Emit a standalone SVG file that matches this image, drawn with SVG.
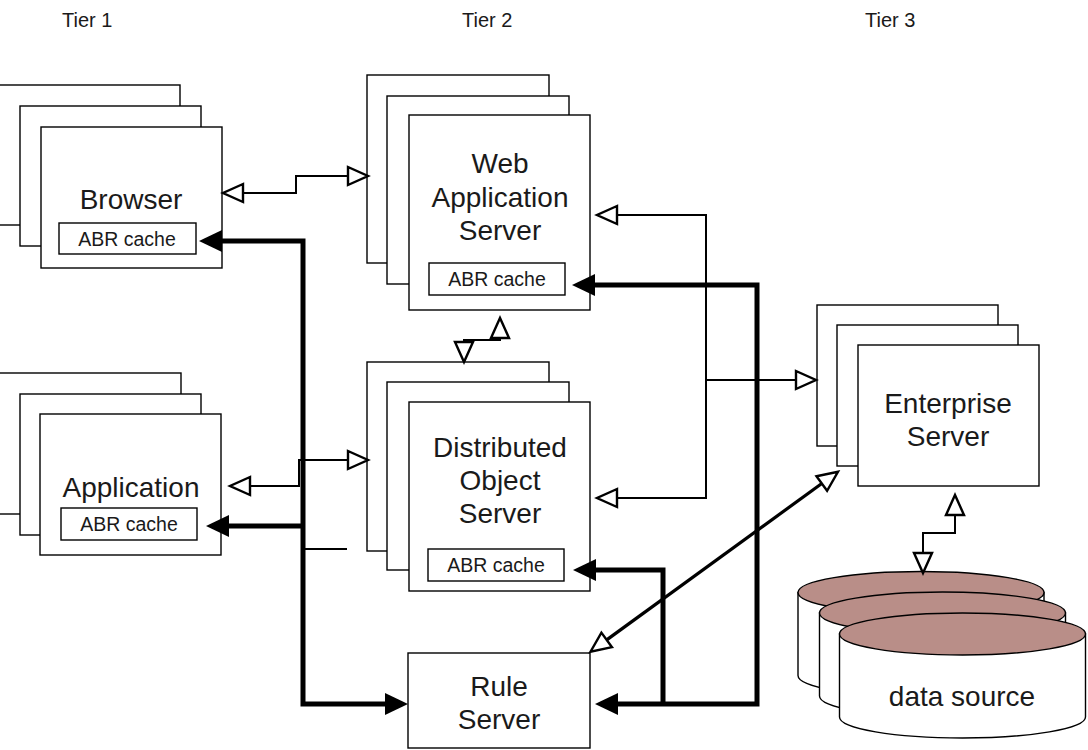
<svg xmlns="http://www.w3.org/2000/svg" width="1088" height="750" viewBox="0 0 1088 750">
<style>
  .box { fill: #fff; stroke: #000; stroke-width: 1.4; }
  .lbl { font-family: "Liberation Sans", Arial, sans-serif; font-size: 28px; fill: #1a1a1a; text-anchor: middle; }
  .small { font-family: "Liberation Sans", Arial, sans-serif; font-size: 19.5px; fill: #1a1a1a; text-anchor: middle; }
  .tier { font-family: "Liberation Sans", Arial, sans-serif; font-size: 20px; fill: #1a1a1a; }
  .thin { fill: none; stroke: #000; stroke-width: 2; }
  .thick { fill: none; stroke: #000; stroke-width: 5; }
  .diag { fill: none; stroke: #000; stroke-width: 3.2; }
  .hol { marker-start: url(#hollow); marker-end: url(#hollow); }
  .db-body { fill: #fff; stroke: #000; stroke-width: 1.4; }
  .db-top { fill: #b98e88; stroke: #000; stroke-width: 1.4; }
</style>
<defs>
  <marker id="hollow" markerUnits="userSpaceOnUse" markerWidth="24" markerHeight="22" refX="1" refY="11" orient="auto-start-reverse" overflow="visible">
    <path d="M1,2 L21,11 L1,20 Z" fill="#fff" stroke="#000" stroke-width="2.4"/>
  </marker>
  <marker id="solid" markerUnits="userSpaceOnUse" markerWidth="24" markerHeight="22" refX="0" refY="11" orient="auto-start-reverse" overflow="visible">
    <path d="M0,0 L23,11 L0,22 Z" fill="#000"/>
  </marker>
</defs>
<rect width="1088" height="750" fill="#fff"/>

<g id="tiers">
  <text class="tier" x="62" y="27">Tier 1</text>
  <text class="tier" x="462" y="27">Tier 2</text>
  <text class="tier" x="865" y="27">Tier 3</text>
</g>

<g id="browser">
  <rect class="box" x="-1" y="85" width="181" height="140"/>
  <rect class="box" x="20" y="106" width="181" height="140"/>
  <rect class="box" x="41" y="127" width="181" height="141"/>
  <text class="lbl" x="131" y="209">Browser</text>
  <rect class="box" x="59" y="223" width="137" height="31"/>
  <text class="small" x="127" y="246">ABR cache</text>
</g>

<g id="application">
  <rect class="box" x="-1" y="373" width="182" height="141"/>
  <rect class="box" x="20" y="394" width="181" height="141"/>
  <rect class="box" x="40" y="414" width="181" height="141"/>
  <text class="lbl" x="131" y="497">Application</text>
  <rect class="box" x="61" y="508" width="136" height="32"/>
  <text class="small" x="129" y="531">ABR cache</text>
</g>

<g id="web-application-server">
  <rect class="box" x="367" y="75" width="182" height="188"/>
  <rect class="box" x="387" y="96" width="182" height="188"/>
  <rect class="box" x="409" y="115" width="181" height="195"/>
  <text class="lbl" x="500" y="173">Web</text>
  <text class="lbl" x="500" y="207">Application</text>
  <text class="lbl" x="500" y="240">Server</text>
  <rect class="box" x="429" y="263" width="136" height="32"/>
  <text class="small" x="497" y="286">ABR cache</text>
</g>

<g id="distributed-object-server">
  <rect class="box" x="367" y="362" width="182" height="189"/>
  <rect class="box" x="387" y="382" width="182" height="188"/>
  <rect class="box" x="409" y="402" width="181" height="189"/>
  <text class="lbl" x="500" y="457">Distributed</text>
  <text class="lbl" x="500" y="490">Object</text>
  <text class="lbl" x="500" y="523">Server</text>
  <rect class="box" x="428" y="549" width="136" height="32"/>
  <text class="small" x="496" y="572">ABR cache</text>
</g>

<g id="rule-server">
  <rect class="box" x="408" y="653" width="182" height="95"/>
  <text class="lbl" x="499" y="696">Rule</text>
  <text class="lbl" x="499" y="729">Server</text>
</g>

<g id="enterprise-server">
  <rect class="box" x="817" y="305" width="181" height="141"/>
  <rect class="box" x="837" y="325" width="181" height="141"/>
  <rect class="box" x="858" y="345" width="181" height="141"/>
  <text class="lbl" x="948" y="413">Enterprise</text>
  <text class="lbl" x="948" y="446">Server</text>
</g>

<g id="data-source">
  <path class="db-body" d="M798,592.5 L798,675.5 A123,21 0 0 0 1044,675.5 L1044,592.5 Z"/>
  <ellipse class="db-top" cx="921" cy="592.5" rx="123" ry="21"/>
  <path class="db-body" d="M819.5,613 L819.5,696 A123,21 0 0 0 1065.5,696 L1065.5,613 Z"/>
  <ellipse class="db-top" cx="942.5" cy="613" rx="123" ry="21"/>
  <path class="db-body" d="M839.5,634 L839.5,717 A123,21 0 0 0 1085.5,717 L1085.5,634 Z"/>
  <ellipse class="db-top" cx="962.5" cy="634" rx="123" ry="21"/>
  <text class="lbl" x="962" y="706">data source</text>
</g>

<g id="connectors">
  <!-- thin hollow-arrow connectors -->
  <path class="thin hol" d="M243,193 L296,193 L296,176 L348,176"/>
  <path class="thin hol" d="M250,486 L299,486 L299,460 L348,460"/>
  <path class="thin hol" d="M464,342 L464,340 L500,340 L500,338"/>
  <path class="thin hol" d="M617,215 L706,215 L706,498 L617,498"/>
  <path class="thin" d="M706,380 L796,380" marker-end="url(#hollow)"/>
  <path class="thin hol" d="M955,515 L955,533 L923,533 L923,553"/>
  <path class="diag hol" d="M606.7,639.9 L821.8,483.5"/>
  <path class="thin" d="M303,549 L347,549"/>
  <!-- thick solid-arrow connectors -->
  <path class="thick" d="M222,241 L303,241 L303,704 L385,704" marker-start="url(#solid)" marker-end="url(#solid)"/>
  <path class="thick" d="M229,526 L303,526" marker-start="url(#solid)"/>
  <path class="thick" d="M595,285 L757,285 L757,704 L618,704" marker-start="url(#solid)" marker-end="url(#solid)"/>
  <path class="thick" d="M596,570 L663,570 L663,704" marker-start="url(#solid)"/>
</g>
</svg>
